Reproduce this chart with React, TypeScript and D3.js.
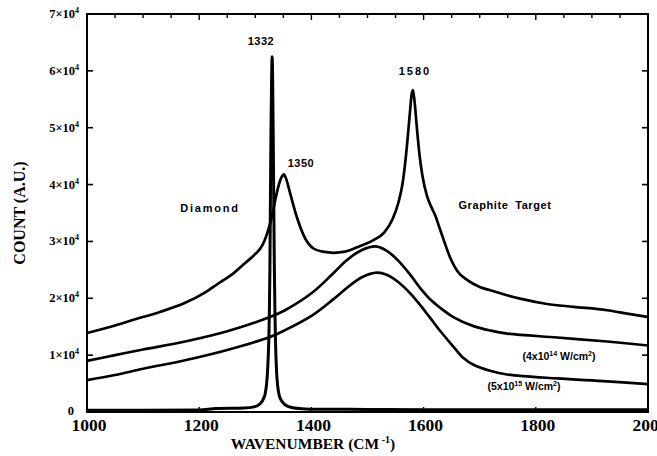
import React from "react";
import * as d3 from "d3";

// ---- data ----
const graphiteWave = [1000, 1050, 1086, 1130, 1175, 1210, 1234, 1260, 1282, 1300, 1312, 1323, 1330, 1336, 1342, 1348, 1351, 1355, 1362, 1374, 1389, 1403, 1420, 1440, 1460, 1487, 1510, 1530, 1545, 1555, 1563, 1570, 1575, 1579, 1581, 1584, 1588, 1593, 1598, 1606, 1614, 1621, 1628, 1635, 1648, 1660, 1678, 1700, 1719, 1750, 1778, 1820, 1867, 1927, 1963, 2000];
const graphiteCount = [13900, 15200, 16300, 17600, 19200, 21000, 22600, 24300, 26200, 27800, 29200, 32000, 34500, 37500, 40000, 41500, 41800, 41000, 38500, 34300, 30500, 28800, 28200, 28000, 28200, 29200, 30200, 31600, 34000, 36800, 40500, 46500, 52000, 56000, 56600, 54500, 50000, 45000, 41500, 38000, 36000, 34500, 32500, 30500, 27000, 24800, 23200, 22000, 21400, 20500, 19800, 19000, 18500, 17900, 17300, 16700];

const film14Wave = [1000, 1050, 1100, 1175, 1250, 1326, 1353, 1403, 1440, 1463, 1490, 1517, 1535, 1553, 1575, 1594, 1612, 1630, 1653, 1689, 1720, 1749, 1838, 1927, 2000];
const film14Count = [9000, 10000, 11000, 12400, 14200, 16700, 17900, 21100, 24500, 26700, 28500, 29100, 28300, 26800, 24300, 21800, 19800, 18300, 16700, 15100, 14300, 13800, 13100, 12400, 11700];

const film15Wave = [1000, 1050, 1100, 1175, 1250, 1326, 1353, 1403, 1440, 1463, 1490, 1517, 1535, 1553, 1575, 1594, 1612, 1630, 1653, 1670, 1689, 1720, 1749, 1838, 1927, 2000];
const film15Count = [5600, 6500, 7600, 9100, 10900, 13200, 14400, 17100, 19900, 21800, 23700, 24500, 24100, 23000, 21000, 18800, 16500, 14200, 11500, 9600, 8300, 7200, 6600, 5900, 5400, 4900];

const diamondWave = [1000, 1100, 1200, 1230, 1280, 1298, 1308, 1315, 1318, 1320, 1322, 1324, 1325, 1326, 1327, 1328, 1329, 1330, 1331, 1332, 1333, 1334, 1335, 1336, 1338, 1340, 1343, 1348, 1358, 1378, 1400, 1500, 1600, 1800, 2000];
const diamondCount = [300, 300, 350, 600, 700, 900, 1400, 2400, 3400, 4800, 7500, 12500, 17000, 25000, 38000, 50000, 58000, 62500, 58000, 48000, 36000, 25000, 17500, 12500, 7000, 4500, 2800, 1800, 1000, 600, 500, 450, 400, 400, 400];

const xTicks = [1000, 1200, 1400, 1600, 1800, 2000];
const xMinorTicks = d3.range(1000, 2001, 50);
const yTicks = [0, 10000, 20000, 30000, 40000, 50000, 60000, 70000];
const yTickMantissa = ["0", "1", "2", "3", "4", "5", "6", "7"];

const W = 657;
const H = 456;
const left = 87;
const right = 648;
const top = 14;
const bottom = 412;

export default function App() {
  const x = d3.scaleLinear().domain([1000, 2000]).range([left, right]);
  const y = d3.scaleLinear().domain([0, 70000]).range([bottom, top]);

  const peakLine = d3
    .line<[number, number]>()
    .x((d) => x(d[0]))
    .y((d) => y(d[1]))
    .curve(d3.curveMonotoneX);
  const broadLine = d3
    .line<[number, number]>()
    .x((d) => x(d[0]))
    .y((d) => y(d[1]))
    .curve(d3.curveCatmullRom.alpha(0.5));

  const zip = (a: number[], b: number[]) => a.map((v, i) => [v, b[i]] as [number, number]);

  const serif = "'Liberation Serif', 'Times New Roman', serif";
  const sans = "'Liberation Sans', Arial, sans-serif";

  return (
    <svg
      width={W}
      height={H}
      style={{ position: "absolute", left: 0, top: 0, background: "#fff" }}
    >
      <rect x={0} y={0} width={W} height={H} fill="#fff" />
      {/* curves */}
      <g fill="none" stroke="#000" strokeLinejoin="round">
        <path d={broadLine(zip(film15Wave, film15Count)) || ""} strokeWidth={2.7} />
        <path d={broadLine(zip(film14Wave, film14Count)) || ""} strokeWidth={2.7} />
        <path d={peakLine(zip(graphiteWave, graphiteCount)) || ""} strokeWidth={2.7} />
        <path d={peakLine(zip(diamondWave, diamondCount)) || ""} strokeWidth={3} />
      </g>

      {/* frame */}
      <rect x={left} y={top} width={right - left} height={bottom - top} fill="none" stroke="#000" strokeWidth={2} />

      {/* left / right ticks */}
      {yTicks.map((t) => (
        <g key={"y" + t}>
          <line x1={left} x2={left + 6} y1={y(t)} y2={y(t)} stroke="#000" strokeWidth={1.6} />
          <line x1={right - 6} x2={right} y1={y(t)} y2={y(t)} stroke="#000" strokeWidth={1.6} />
        </g>
      ))}
      {/* top minor ticks */}
      {xMinorTicks.map((t) => (
        <line key={"tm" + t} x1={x(t)} x2={x(t)} y1={top} y2={top + (t % 200 === 0 ? 6 : 4)} stroke="#000" strokeWidth={1.4} />
      ))}
      {/* bottom ticks */}
      {xTicks.map((t) => (
        <line key={"b" + t} x1={x(t)} x2={x(t)} y1={bottom} y2={bottom - 5} stroke="#000" strokeWidth={1.4} />
      ))}

      {/* y tick labels */}
      <g fontFamily={serif} fontWeight="bold" fontSize={12.5} fill="#000">
        {yTicks.map((t, i) =>
          t === 0 ? (
            <text key={"yl" + t} x={74} y={y(t) + 3} textAnchor="end">0</text>
          ) : (
            <text key={"yl" + t} x={79} y={y(t) + 4} textAnchor="end">
              {yTickMantissa[i]}×10
              <tspan fontSize={8} dy={-5}>4</tspan>
            </text>
          )
        )}
      </g>

      {/* x tick labels */}
      <g fontFamily={serif} fontWeight="bold" fontSize={17.5} fill="#000">
        {xTicks.map((t) => (
          <text key={"xl" + t} x={x(t) + 2} y={431} textAnchor="middle">{t}</text>
        ))}
      </g>

      {/* axis titles */}
      <text x={313} y={449} textAnchor="middle" fontFamily={serif} fontWeight="bold" fontSize={15.5}>
        WAVENUMBER (CM
        <tspan fontSize={10} dy={-6}> -1</tspan>
        <tspan dy={6}>)</tspan>
      </text>
      <text
        transform={`translate(25,213) rotate(-90)`}
        textAnchor="middle"
        fontFamily={serif}
        fontWeight="bold"
        fontSize={16}
      >
        COUNT (A.U.)
      </text>

      {/* annotations */}
      <g fontFamily={sans} fontWeight="bold" fontSize={11} fill="#000">
        <text x={261} y={45} textAnchor="middle" letterSpacing={0.5}>1332</text>
        <text x={415} y={75} textAnchor="middle" letterSpacing={2}>1580</text>
        <text x={301} y={167} textAnchor="middle" letterSpacing={0.5}>1350</text>
        <text x={210} y={212} textAnchor="middle" letterSpacing={1.8}>Diamond</text>
        <text x={505} y={209} textAnchor="middle" letterSpacing={0.6} wordSpacing={3}>Graphite Target</text>
        <text x={559} y={360} textAnchor="middle" fontSize={10.5}>
          (4x10<tspan fontSize={7} dy={-4}>14</tspan>
          <tspan dy={4}> W/cm</tspan>
          <tspan fontSize={7} dy={-4}>2</tspan>
          <tspan dy={4}>)</tspan>
        </text>
        <text x={524} y={390} textAnchor="middle" fontSize={10.5}>
          (5x10<tspan fontSize={7} dy={-4}>15</tspan>
          <tspan dy={4}> W/cm</tspan>
          <tspan fontSize={7} dy={-4}>2</tspan>
          <tspan dy={4}>)</tspan>
        </text>
      </g>
    </svg>
  );
}
